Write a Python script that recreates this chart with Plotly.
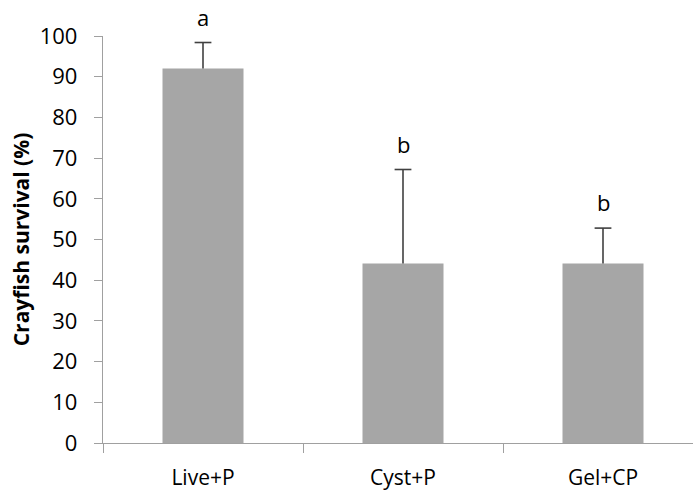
import plotly.graph_objects as go

categories = ["Live+P", "Cyst+P", "Gel+CP"]
survival = [92.0, 44.1, 44.1]
sd_upper = [6.4, 23.1, 8.7]
letters = ["a", "b", "b"]
y_ticks = list(range(0, 101, 10))

FONT = "Open Sans"
AXIS_GREY = "#A0A0A0"
BAR_GREY = "#A6A6A6"
ERR_COL = "#404040"

tops = [v + e for v, e in zip(survival, sd_upper)]

fig = go.Figure()
fig.add_trace(go.Bar(
    x=categories, y=survival, width=0.405,
    marker=dict(color=BAR_GREY, line=dict(width=0)),
    error_y=dict(type="data", symmetric=False, array=sd_upper,
                 arrayminus=[0] * len(survival), color=ERR_COL,
                 thickness=1.6, width=0),
    showlegend=False, hoverinfo="skip",
))
# caps of the error bars (top only)
fig.add_trace(go.Scatter(
    x=categories, y=tops, mode="markers",
    marker=dict(symbol="line-ew", size=12, line=dict(color=ERR_COL, width=1.6)),
    showlegend=False, hoverinfo="skip", cliponaxis=False,
))

for c, t, l in zip(categories, tops, letters):
    fig.add_annotation(x=c, y=t, text=l, showarrow=False, yanchor="bottom",
                       yshift=9, font=dict(family=FONT, size=22, color="black"))

fig.update_layout(
    width=693, height=492,
    margin=dict(l=103, r=0, t=36, b=49),
    plot_bgcolor="white", paper_bgcolor="white",
    font=dict(family=FONT, size=22, color="black"),
)
fig.update_xaxes(
    type="category", range=[-0.5, 2.45], automargin=False,
    showline=True, linecolor=AXIS_GREY, linewidth=1.3,
    ticks="outside", tickson="boundaries", ticklen=9, tickcolor=AXIS_GREY,
    tickwidth=1.3, showgrid=False, ticklabelstandoff=16,
    tickfont=dict(family=FONT, size=21, color="black"),
)
fig.update_yaxes(
    range=[0, 100], tickvals=y_ticks, automargin=False,
    showline=True, linecolor=AXIS_GREY, linewidth=1.3,
    ticks="outside", ticklen=8, tickcolor=AXIS_GREY, tickwidth=1.3,
    showgrid=False, zeroline=False, ticklabelstandoff=12,
    tickfont=dict(family=FONT, size=22, color="black"),
    title=dict(text="<b>Crayfish survival (%)</b>", standoff=4,
               font=dict(family=FONT, size=21, color="black")),
)

fig.write_html("out.html")
